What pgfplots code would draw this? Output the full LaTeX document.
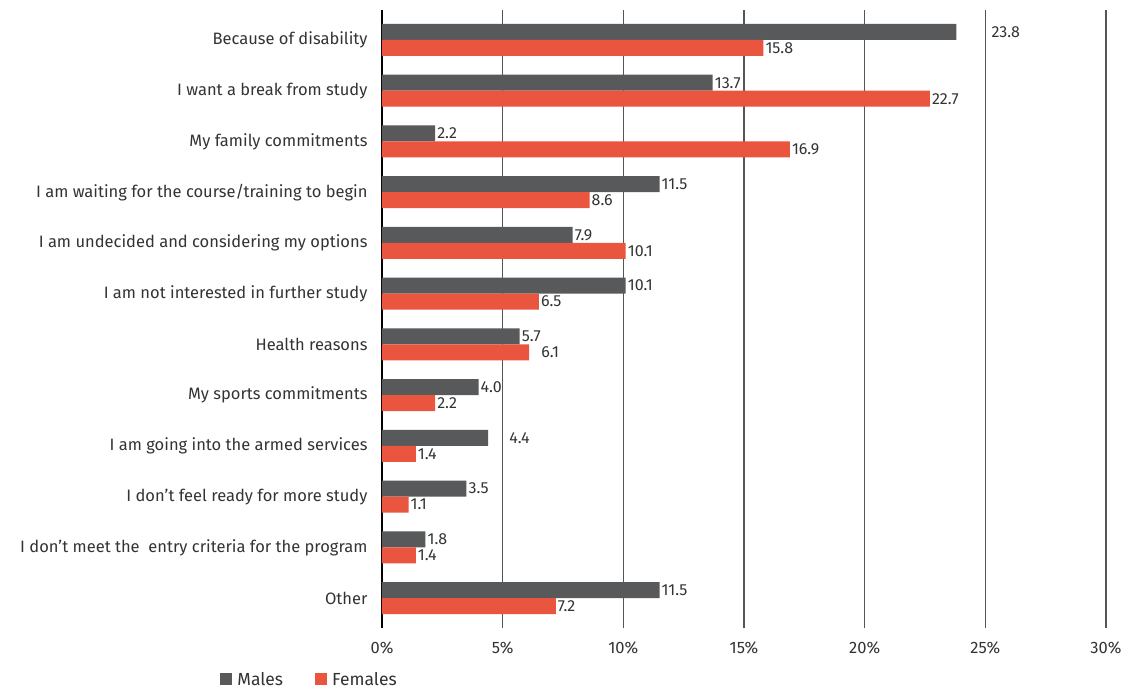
\documentclass[border=0pt]{standalone}
\usepackage{pgfplots}
\pgfplotsset{compat=1.18}
\usepackage{pgfplotstable}
\usepackage{fontspec}
\setmainfont{Fira Sans}
\definecolor{males}{HTML}{58595B}
\definecolor{females}{HTML}{E9553F}
\definecolor{txt}{HTML}{333333}
\definecolor{gridc}{HTML}{555555}

% y: 11 = top category
\pgfplotstableread{
y val off
11 23.8 33
10 13.7 0
9 2.2 0
8 11.5 0
7 7.9 0
6 10.1 0
5 5.7 0
4 4.0 0
3 4.4 19
2 3.5 0
1 1.8 0
0 11.5 0
}\males
\pgfplotstableread{
y val off
11 15.8 0
10 22.7 0
9 16.9 0
8 8.6 0
7 10.1 0
6 6.5 0
5 6.1 10
4 2.2 0
3 1.4 0
2 1.1 0
1 1.4 0
0 7.2 0
}\females

\begin{document}
\begin{tikzpicture}
\begin{axis}[
  scale only axis,
  width=724pt, height=618pt,
  xbar, bar width=16pt,
  xmin=0, xmax=30,
  ymin=-0.59, ymax=11.59,
  xtick={0,5,10,15,20,25,30},
  xticklabel={\pgfmathprintnumber{\tick}\%},
  /pgf/number format/assume math mode=true,
  ytick={0,...,11},
  yticklabels={Other,
    I don’t meet the\ \ entry criteria for the program,
    I don’t feel ready for more study,
    I am going into the armed services,
    My sports commitments,
    Health reasons,
    I am not interested in further study,
    I am undecided and considering my options,
    I am waiting for the course/training to begin,
    My family commitments,
    I want a break from study,
    Because of disability},
  major tick length=0pt,
  axis x line*=bottom,
  axis y line*=left,
  x axis line style={draw=none},
  y axis line style={draw=black, line width=1.1pt, -},
  xmajorgrids,
  major grid style={draw=gridc, line width=1.1pt},
  ticklabel style={font=\fontsize{16.5}{19}\selectfont, text=txt},
  yticklabel style={xshift=-11pt},
  xticklabel style={yshift=-10pt},
  nodes near coords,
  point meta=explicit,
  nodes near coords style={font=\fontsize{16}{18}\selectfont, text=txt, anchor=west, inner sep=1pt, xshift=\xoff pt + 1pt},
  visualization depends on={\thisrow{off} \as \xoff},
  legend style={draw=none, at={(rel axis cs:-0.1,-0.083)}, anchor=center,
    legend columns=2, font=\fontsize{17.5}{20}\selectfont, text=txt,
    /tikz/every even column/.append style={column sep=30pt}},
  legend image code/.code={\fill[#1] (0pt,-6pt) rectangle (12pt,6pt);},
  legend cell align=left,
]
\addplot[fill=males, draw=none, bar shift=8pt,
  nodes near coords={\pgfmathprintnumber[fixed,precision=1,fixed zerofill]{\pgfplotspointmeta}}]
  table[x=val, y=y, meta=val]{\males};
\addlegendentry{\hspace{3pt}Males}
\addplot[fill=females, draw=none, bar shift=-8pt,
  nodes near coords={\pgfmathprintnumber[fixed,precision=1,fixed zerofill]{\pgfplotspointmeta}}]
  table[x=val, y=y, meta=val]{\females};
\addlegendentry{\hspace{3pt}Females}
\coordinate (sw) at (rel axis cs:0,0);
\end{axis}
\path (sw) ++(-382pt,-60pt) rectangle ++(1129pt,688pt);
\end{tikzpicture}
\end{document}
